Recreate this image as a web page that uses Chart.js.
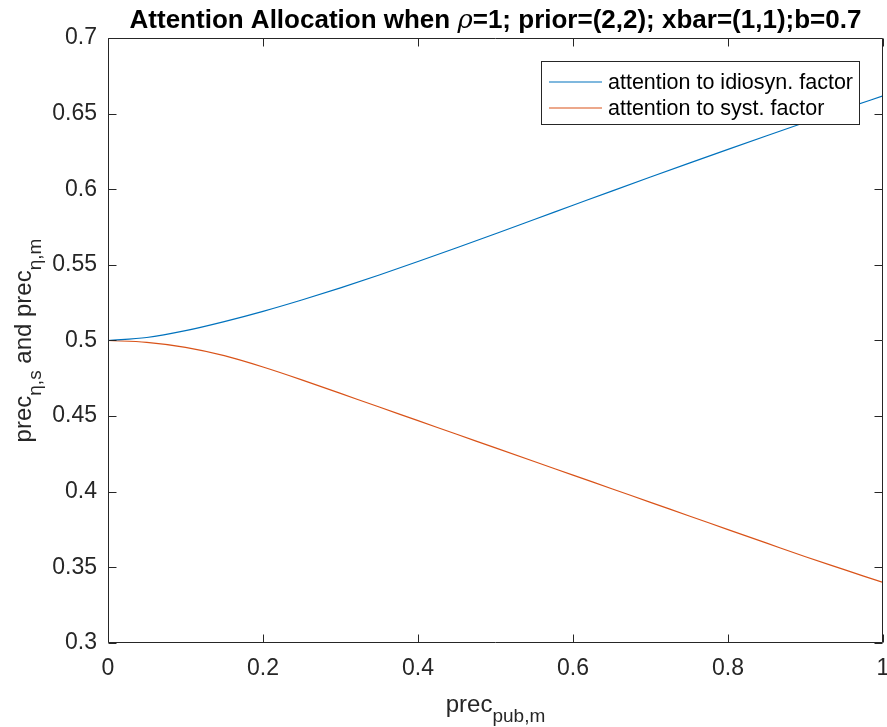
<!DOCTYPE html>
<html>
<head>
<meta charset="utf-8">
<script src="https://cdn.jsdelivr.net/npm/chart.js@4"></script>
<style>
  html, body { margin: 0; padding: 0; background: #fff; }
  canvas { display: block; }
</style>
</head>
<body>
<canvas id="attChart" width="887" height="727"></canvas>
<script>
// prec_pub,m values (x axis)
const precPub = [0, 0.05, 0.1, 0.15, 0.2, 0.25, 0.3, 0.35, 0.4, 0.45, 0.5,
                 0.55, 0.6, 0.65, 0.7, 0.75, 0.8, 0.85, 0.9, 0.95, 1];
// attention to idiosyncratic factor
const idiosyn = [0.5, 0.502, 0.5065, 0.5125, 0.5193, 0.5268, 0.5348, 0.5433, 0.5522, 0.5613, 0.5706,
                 0.5800, 0.5894, 0.5988, 0.6081, 0.6173, 0.6264, 0.6354, 0.6443, 0.6531, 0.6617];
// attention to systematic factor
const syst = [0.5, 0.4988, 0.4955, 0.490, 0.4825, 0.474, 0.465, 0.456, 0.447, 0.438, 0.429,
              0.420, 0.411, 0.402, 0.393, 0.384, 0.375, 0.366, 0.357, 0.3485, 0.340];
const seriesNames = ["attention to idiosyn. factor", "attention to syst. factor"];
const xTicks = [0, 0.2, 0.4, 0.6, 0.8, 1];
const yTicks = [0.3, 0.35, 0.4, 0.45, 0.5, 0.55, 0.6, 0.65, 0.7];

const FONT = "'Liberation Sans', Arial, Helvetica, sans-serif";
const AXIS_COLOR = "#262626";

function toPoints(ys) {
  return precPub.map((x, i) => ({ x: x, y: ys[i] }));
}

// draw a sequence of [text, font, dy] pieces centred on cx
function drawPieces(ctx, pieces, cx, baseY) {
  let total = 0;
  pieces.forEach(p => { ctx.font = p[1]; total += ctx.measureText(p[0]).width; });
  let x = cx - total / 2;
  pieces.forEach(p => {
    ctx.font = p[1];
    ctx.fillText(p[0], x, baseY + (p[2] || 0));
    x += ctx.measureText(p[0]).width;
  });
}

const matlabAxes = {
  id: "matlabAxes",
  afterDraw(chart) {
    const ctx = chart.ctx;
    const a = chart.chartArea;
    const xs = chart.scales.x, ys = chart.scales.y;
    const L = Math.round(a.left) + 0.5, R = Math.round(a.right) - 0.5;
    const T = Math.round(a.top) + 0.5, B = Math.round(a.bottom) - 0.5;
    const tl = 8;

    ctx.save();
    ctx.strokeStyle = AXIS_COLOR;
    ctx.lineWidth = 1;
    ctx.beginPath();
    ctx.rect(L, T, R - L, B - T);
    xTicks.forEach(v => {
      const px = Math.round(xs.getPixelForValue(v)) + 0.5;
      ctx.moveTo(px, B); ctx.lineTo(px, B - tl);
      ctx.moveTo(px, T); ctx.lineTo(px, T + tl);
    });
    yTicks.forEach(v => {
      const py = Math.round(ys.getPixelForValue(v)) + 0.5;
      ctx.moveTo(L, py); ctx.lineTo(L + tl, py);
      ctx.moveTo(R, py); ctx.lineTo(R - tl, py);
    });
    ctx.stroke();

    // legend
    const lx = 541.5, ly = 61.5, lw = 318, lh = 63;
    ctx.fillStyle = "#fff";
    ctx.fillRect(lx, ly, lw, lh);
    ctx.strokeStyle = AXIS_COLOR;
    ctx.strokeRect(lx, ly, lw, lh);
    const rows = [82, 108];
    chart.data.datasets.forEach((ds, i) => {
      ctx.strokeStyle = ds.borderColor;
      ctx.lineWidth = 1.2;
      ctx.beginPath();
      ctx.moveTo(549, rows[i]); ctx.lineTo(602, rows[i]);
      ctx.stroke();
      ctx.fillStyle = "#000";
      ctx.font = "21.5px " + FONT;
      ctx.textBaseline = "middle";
      ctx.textAlign = "left";
      ctx.fillText(ds.label, 608, rows[i] + 1);
    });

    // title
    ctx.fillStyle = "#000";
    ctx.textBaseline = "alphabetic";
    ctx.textAlign = "left";
    const cx = (a.left + a.right) / 2;
    drawPieces(ctx, [
      ["Attention Allocation when ", "bold 26px " + FONT],
      ["\u03C1", "italic 26px 'DejaVu Serif', serif"],
      ["=1; prior=(2,2); xbar=(1,1);b=0.7", "bold 26px " + FONT]
    ], cx, 28);

    // x label
    ctx.fillStyle = AXIS_COLOR;
    drawPieces(ctx, [
      ["prec", "24px " + FONT],
      ["pub,m", "19px " + FONT, 10]
    ], cx, 712);

    // y label
    ctx.save();
    ctx.translate(31, (a.top + a.bottom) / 2);
    ctx.rotate(-Math.PI / 2);
    drawPieces(ctx, [
      ["prec", "24px " + FONT],
      ["\u03B7,s", "19px " + FONT, 10],
      [" and prec", "24px " + FONT],
      ["\u03B7,m", "19px " + FONT, 10]
    ], 0, 0);
    ctx.restore();
    ctx.restore();
  }
};

new Chart(document.getElementById("attChart").getContext("2d"), {
  type: "line",
  data: {
    datasets: [
      {
        label: seriesNames[0],
        data: toPoints(idiosyn),
        borderColor: "#0072BD",
        borderWidth: 1.2,
        pointRadius: 0,
        cubicInterpolationMode: "monotone",
        fill: false
      },
      {
        label: seriesNames[1],
        data: toPoints(syst),
        borderColor: "#D95319",
        borderWidth: 1.2,
        pointRadius: 0,
        cubicInterpolationMode: "monotone",
        fill: false
      }
    ]
  },
  options: {
    responsive: false,
    animation: false,
    devicePixelRatio: 1,
    layout: { padding: { left: 0, top: 38, right: 4, bottom: 0 } },
    plugins: {
      legend: { display: false },
      title: { display: false },
      tooltip: { enabled: false }
    },
    scales: {
      x: {
        type: "linear",
        min: 0,
        max: 1,
        afterFit: s => { s.height = 84; s.paddingLeft = 0; s.paddingRight = 0; },
        afterBuildTicks: s => { s.ticks = xTicks.map(v => ({ value: v })); },
        ticks: {
          color: AXIS_COLOR,
          font: { family: FONT, size: 23 },
          padding: 12,
          maxRotation: 0,
          callback: v => String(v)
        },
        grid: { display: false, drawTicks: false },
        border: { display: false }
      },
      y: {
        min: 0.3,
        max: 0.7,
        afterFit: s => { s.width = 108; s.paddingTop = 0; s.paddingBottom = 0; },
        afterBuildTicks: s => { s.ticks = yTicks.map(v => ({ value: v })); },
        ticks: {
          color: AXIS_COLOR,
          font: { family: FONT, size: 23 },
          padding: 11,
          callback: v => String(Math.round(v * 100) / 100)
        },
        grid: { display: false, drawTicks: false },
        border: { display: false }
      }
    }
  },
  plugins: [matlabAxes]
});
</script>
</body>
</html>
